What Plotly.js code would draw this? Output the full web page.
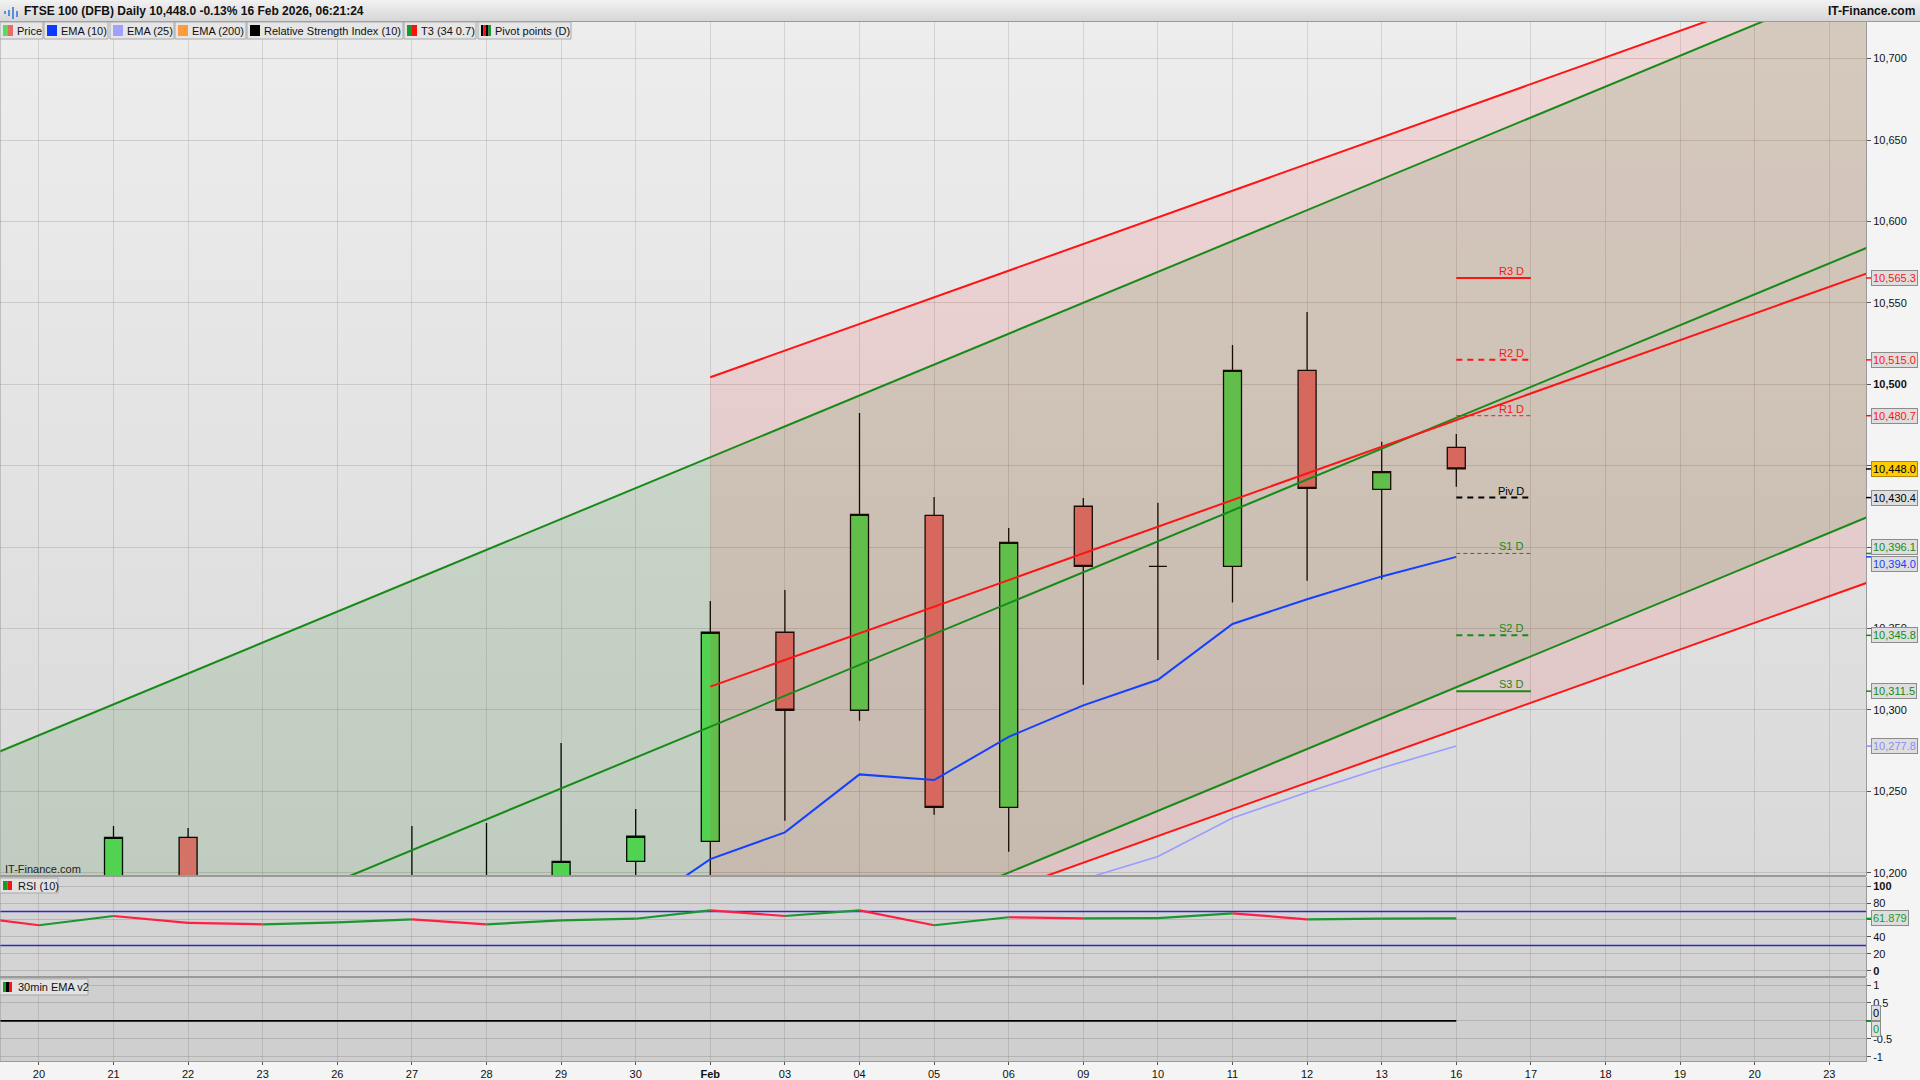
<!DOCTYPE html>
<html><head><meta charset="utf-8">
<script src="https://cdn.plot.ly/plotly-3.0.1.min.js"></script>
<style>html,body{margin:0;padding:0;background:#fff;overflow:hidden}#chart{width:1920px;height:1080px}</style>
</head><body><div id="chart"></div>
<script>
// ================= DATA =================
// trading days (index 0 = 19 Jan, off-screen left); axis labels
const dayLabels = ["19","20","21","22","23","26","27","28","29","30","Feb","03","04","05","06","09","10","11","12","13","16","17","18","19","20","23"];
// daily candles 19 Jan .. 16 Feb
const openP  = [10160,10170,10180,10221.7,10170,10165,10180,10192,10175,10207,10219.3,10347.7,10299.8,10419.5,10240.2,10425.1,10388.2,10388.2,10508.6,10435.5,10461.3];
const highP  = [10195,10190,10228.7,10227.5,10190,10192,10228.7,10230.5,10279.7,10239.1,10366.9,10373.6,10482.4,10430.8,10411.7,10430.2,10427.3,10524.1,10544.4,10464.7,10469.5];
const lowP   = [10140,10150,10165,10150,10150,10150,10160,10150,10160,10185,10190,10232,10293.4,10235.6,10212.9,10315.5,10330.7,10365.9,10379.4,10380.1,10437.1];
const closeP = [10178,10175,10221.7,10170,10165,10180,10192,10170,10207,10222.4,10347.7,10299.8,10420.1,10240.2,10402.9,10388.2,10388.2,10508.6,10436.1,10446.4,10448.0];
// EMA(10) from 30 Jan (index 9), EMA(25) from 09 Feb (index 15)
const ema10Start = 9;
const ema10 = [10177,10208.4,10224.8,10260.4,10256.9,10283.5,10302.8,10318.5,10352.8,10368,10382,10394.0];
const ema25Start = 15;
const ema25 = [10196,10210,10233.6,10249.4,10264.4,10277.8];
// RSI(10) 19 Jan .. 16 Feb
const rsi = [65.0,53.8,64.7,56.5,54.9,57.3,60.8,54.9,59.6,61.5,71.4,64.7,71.4,53.8,63.2,62.0,62.1,67.9,60.8,61.7,61.879];
const rsiLevels = [70,30];
// 30min EMA v2 indicator values
const ema30m = [0,0,0,0,0,0,0,0,0,0,0,0,0,0,0,0,0,0,0,0,0];
// T3 channels: centre line values at 02 Feb (index 10) and 16 Feb (index 20), band half-width
const channelDays = [10,20];
const greenMid = [10289.7,10479.4];
const greenHalf = 165.5;
const redMid = [10314.3,10478.0];
const redHalf = 190;
// daily pivot points
const pivotNames  = ["R3 D","R2 D","R1 D","Piv D","S1 D","S2 D","S3 D"];
const pivotLevels = [10565.3,10515.0,10480.7,10430.4,10396.1,10345.8,10311.5];
const pivotDays = [20,21];
// legend entries
const legendNames = ["Price","EMA (10)","EMA (25)","EMA (200)","Relative Strength Index (10)","T3 (34 0.7)","Pivot points (D)"];
const titleText = "FTSE 100 (DFB) Daily 10,448.0 -0.13% 16 Feb 2026, 06:21:24";
const priceTicks = [10200,10250,10300,10350,10400,10450,10500,10550,10600,10650,10700];

// ================= LAYOUT HELPERS =================
const FONT = "Liberation Sans, Arial, Helvetica, sans-serif";
const W = 1920, H = 1080, ML = 0, MR = 54, MT = 22, MB = 19;
const PW = W - ML - MR, PH = H - MT - MB;
const xp = px => (px - ML) / PW;
const yp = py => (H - MB - py) / PH;
const XR = [0.4786, 25.492];

const GREEN = '#178a17', RED = '#ff1414';
const fmt = (v, d) => v.toLocaleString('en-US', {minimumFractionDigits: d, maximumFractionDigits: d});

function lineAt(days, vals, x) {
  const s = (vals[1] - vals[0]) / (days[1] - days[0]);
  return vals[0] + (x - days[0]) * s;
}

const traces = [];
// channel fills
(function(){
  const xa = -1, xb = 27;
  const gU = [lineAt(channelDays, greenMid, xa) + greenHalf, lineAt(channelDays, greenMid, xb) + greenHalf];
  const gL = [lineAt(channelDays, greenMid, xa) - greenHalf, lineAt(channelDays, greenMid, xb) - greenHalf];
  traces.push({type:'scatter', mode:'lines', x:[xa,xb,xb,xa,xa], y:[gU[0],gU[1],gL[1],gL[0],gU[0]],
    fill:'toself', fillcolor:'rgba(0,105,0,0.115)', line:{width:0}, hoverinfo:'skip', xaxis:'x', yaxis:'y'});
  const rs = channelDays[0];
  const rU = [lineAt(channelDays, redMid, rs) + redHalf, lineAt(channelDays, redMid, xb) + redHalf];
  const rL = [lineAt(channelDays, redMid, rs) - redHalf, lineAt(channelDays, redMid, xb) - redHalf];
  traces.push({type:'scatter', mode:'lines', x:[rs,xb,xb,rs,rs], y:[rU[0],rU[1],rL[1],rL[0],rU[0]],
    fill:'toself', fillcolor:'rgba(255,20,20,0.10)', line:{width:0}, hoverinfo:'skip', xaxis:'x', yaxis:'y'});
})();

// candles
const candleX = openP.map((_, i) => i);
traces.push({type:'candlestick', x:candleX, open:openP, high:highP, low:lowP, close:closeP,
  increasing:{line:{color:'#000', width:1.3}, fillcolor:'#5ce05c'},
  decreasing:{line:{color:'#000', width:1.3}, fillcolor:'#ee7474'},
  whiskerwidth:0, xaxis:'x', yaxis:'y', hoverinfo:'skip'});

// channel lines
(function(){
  const xa = -1, xb = 27, rs = channelDays[0];
  [greenHalf, 0, -greenHalf].forEach(off => {
    traces.push({type:'scatter', mode:'lines', x:[xa,xb],
      y:[lineAt(channelDays, greenMid, xa) + off, lineAt(channelDays, greenMid, xb) + off],
      line:{color:GREEN, width:2}, xaxis:'x', yaxis:'y', hoverinfo:'skip'});
  });
  [redHalf, 0, -redHalf].forEach(off => {
    traces.push({type:'scatter', mode:'lines', x:[rs,xb],
      y:[lineAt(channelDays, redMid, rs) + off, lineAt(channelDays, redMid, xb) + off],
      line:{color:RED, width:2}, xaxis:'x', yaxis:'y', hoverinfo:'skip'});
  });
})();

// EMAs
traces.push({type:'scatter', mode:'lines', x:ema25.map((_, i) => ema25Start + i), y:ema25,
  line:{color:'#9c9cff', width:1.6}, xaxis:'x', yaxis:'y', hoverinfo:'skip'});
traces.push({type:'scatter', mode:'lines', x:ema10.map((_, i) => ema10Start + i), y:ema10,
  line:{color:'#1440ff', width:2}, xaxis:'x', yaxis:'y', hoverinfo:'skip'});

// pivots
const pivotStyle = [
  {c:RED, d:'solid', w:2}, {c:RED, d:'dash', w:2}, {c:RED, d:'dash', w:1},
  {c:'#000', d:'dash', w:2}, {c:GREEN, d:'dash', w:1}, {c:GREEN, d:'dash', w:2}, {c:GREEN, d:'solid', w:2}
];
pivotLevels.forEach((lv, i) => {
  const st = pivotStyle[i];
  traces.push({type:'scatter', mode:'lines', x:pivotDays, y:[lv, lv],
    line:{color:st.c, width:st.w, dash: st.d === 'dash' ? (st.w > 1 ? '6px,5px' : '4px,3px') : 'solid'},
    xaxis:'x', yaxis:'y', hoverinfo:'skip'});
});

// RSI guide levels
rsiLevels.forEach(l => traces.push({type:'scatter', mode:'lines', x:[-1,27], y:[l,l],
  line:{color:'#2a2ac8', width:1.3}, xaxis:'x', yaxis:'y2', hoverinfo:'skip'}));
// RSI coloured by direction
(function(){
  const g = {x:[], y:[]}, r = {x:[], y:[]};
  for (let i = 0; i < rsi.length - 1; i++) {
    const s = rsi[i+1] >= rsi[i] ? g : r;
    s.x.push(i, i+1, null); s.y.push(rsi[i], rsi[i+1], null);
  }
  traces.push({type:'scatter', mode:'lines', x:r.x, y:r.y, line:{color:'#ff1e46', width:2.2}, xaxis:'x', yaxis:'y2', hoverinfo:'skip', connectgaps:false});
  traces.push({type:'scatter', mode:'lines', x:g.x, y:g.y, line:{color:'#1a9632', width:2.2}, xaxis:'x', yaxis:'y2', hoverinfo:'skip', connectgaps:false});
})();
// 30 min EMA
traces.push({type:'scatter', mode:'lines', x:ema30m.map((_, i) => i), y:ema30m,
  line:{color:'#000', width:1.6}, xaxis:'x', yaxis:'y3', hoverinfo:'skip'});

// ================= SHAPES / ANNOTATIONS =================
const shapes = [], ann = [];
// header bar
const hdr = "<svg xmlns='http://www.w3.org/2000/svg' width='10' height='100' preserveAspectRatio='none'><defs><linearGradient id='h' x1='0' y1='0' x2='0' y2='1'><stop offset='0' stop-color='#f2f2f2'/><stop offset='1' stop-color='#d6d6d6'/></linearGradient></defs><rect width='10' height='100' fill='url(#h)'/></svg>";
shapes.push({type:'line', xref:'paper', yref:'paper', x0:xp(0), x1:xp(W), y0:yp(21.5), y1:yp(21.5),
  line:{color:'#9a9a9a', width:1}, layer:'above'});
// small header icon
[[4,10,7],[8,6,12],[12,3,15],[16,7,13]].forEach(b => shapes.push({type:'rect', xref:'paper', yref:'paper',
  x0:xp(b[0]), x1:xp(b[0]+2), y0:yp(b[2]+4), y1:yp(b[1]+4), fillcolor:'#5a8fd8', line:{width:0}, layer:'above'}));
ann.push({xref:'paper', yref:'paper', x:xp(22), y:yp(11), xanchor:'left', yanchor:'middle', showarrow:false,
  text:'<b>' + titleText + '</b>', font:{family:FONT, size:12, color:'#111'}});
ann.push({xref:'paper', yref:'paper', x:xp(1917), y:yp(11), xanchor:'right', yanchor:'middle', showarrow:false,
  text:'<b>IT-Finance.com</b>', font:{family:FONT, size:12, color:'#111'}});

// panel backgrounds
const grad = "<svg xmlns='http://www.w3.org/2000/svg' width='10' height='100' preserveAspectRatio='none'><defs><linearGradient id='g' x1='0' y1='0' x2='0' y2='1'><stop offset='0' stop-color='#ededed'/><stop offset='1' stop-color='#d9d9d9'/></linearGradient></defs><rect width='10' height='100' fill='url(#g)'/></svg>";
const images = [
  {source:'data:image/svg+xml;charset=utf-8,' + encodeURIComponent(grad), xref:'paper', yref:'paper',
   x:0, y:1, sizex:1, sizey:1 - yp(876), sizing:'stretch', xanchor:'left', yanchor:'top', layer:'below'},
  {source:'data:image/svg+xml;charset=utf-8,' + encodeURIComponent(hdr), xref:'paper', yref:'paper',
   x:0, y:yp(0), sizex:W / PW, sizey:yp(0) - yp(21), sizing:'stretch', xanchor:'left', yanchor:'top', layer:'below'}
];
shapes.push({type:'rect', xref:'paper', yref:'paper', x0:0, x1:1, y0:yp(977), y1:yp(876), fillcolor:'#d4d4d4', line:{width:0}, layer:'below'});
shapes.push({type:'rect', xref:'paper', yref:'paper', x0:0, x1:1, y0:0, y1:yp(977), fillcolor:'#cfcfcf', line:{width:0}, layer:'below'});
// panel separators
[876, 977].forEach(py => shapes.push({type:'line', xref:'paper', yref:'paper', x0:0, x1:1, y0:yp(py), y1:yp(py),
  line:{color:'#9a9a9a', width:2}, layer:'above'}));
shapes.push({type:'line', xref:'paper', yref:'paper', x0:0, x1:0, y0:0, y1:1, line:{color:'#9a9a9a', width:1}, layer:'above'});

// legend bar
const legendBoxes = [[0,43],[44,108],[110,174],[175,246],[247,403],[404,476],[478,571]];
const legendSw = [['#58dd58','#e86a6a'],['#0a3cff'],['#a0a0ff'],['#ff9a40'],['#000'],['#169a28','#ff1010'],['#000','#ff1010','#000','#169a28']];
legendNames.forEach((nm, i) => {
  const [a, b] = legendBoxes[i];
  shapes.push({type:'rect', xref:'paper', yref:'paper', x0:xp(a), x1:xp(b), y0:yp(39), y1:yp(22),
    fillcolor:'#e6e6e6', line:{color:'#a8a8a8', width:1}, layer:'above'});
  const sw = legendSw[i], sx = a + 3, swW = 10;
  sw.forEach((c, k) => shapes.push({type:'rect', xref:'paper', yref:'paper',
    x0:xp(sx + k * swW / sw.length), x1:xp(sx + (k + 1) * swW / sw.length), y0:yp(36), y1:yp(25),
    fillcolor:c, line:{width:0}, layer:'above'}));
  ann.push({xref:'paper', yref:'paper', x:xp(a + 15), y:yp(30.5), xanchor:'left', yanchor:'middle', showarrow:false,
    text:nm, font:{family:FONT, size:11, color:'#111'}});
});

// sub-panel legends
function panelTag(py0, py1, w, sw, label) {
  shapes.push({type:'rect', xref:'paper', yref:'paper', x0:xp(0), x1:xp(w), y0:yp(py1), y1:yp(py0),
    fillcolor:'#e2e2e2', line:{color:'#a8a8a8', width:1}, layer:'above'});
  sw.forEach((c, k) => shapes.push({type:'rect', xref:'paper', yref:'paper',
    x0:xp(3 + k * 9 / sw.length), x1:xp(3 + (k + 1) * 9 / sw.length), y0:yp(py1 - 3), y1:yp(py0 + 3),
    fillcolor:c, line:{width:0}, layer:'above'}));
  ann.push({xref:'paper', yref:'paper', x:xp(16), y:yp((py0 + py1) / 2), xanchor:'left', yanchor:'middle', showarrow:false,
    text:label, font:{family:FONT, size:11, color:'#111'}});
}
panelTag(878, 893, 58, ['#169a28','#ff1010'], 'RSI (10)');
panelTag(979, 995, 88, ['#169a28','#000','#ff1010'], '30min EMA v2');
ann.push({xref:'paper', yref:'paper', x:xp(3), y:yp(869), xanchor:'left', yanchor:'middle', showarrow:false,
  text:'IT-Finance.com', font:{family:FONT, size:11, color:'#222'}});

// pivot labels
pivotLevels.forEach((lv, i) => ann.push({xref:'x', yref:'y', x:pivotDays[1], y:lv, xanchor:'right', yanchor:'bottom',
  xshift:-5, yshift:-1, showarrow:false, text:pivotNames[i], font:{family:FONT, size:11, color:pivotStyle[i].c}}));

// right-side value boxes
function valueBox(yref, v, txt, color, bg, border, yshift) {
  shapes.push({type:'line', xref:'paper', yref:yref, x0:1, x1:1 + 5 / PW, y0:v, y1:v, line:{color:color, width:1.5}});
  ann.push({xref:'paper', yref:yref, x:1, y:v, xanchor:'left', yanchor:'middle', xshift:5, yshift:yshift || 0, showarrow:false,
    text:txt, font:{family:FONT, size:11, color:color}, bgcolor:bg, bordercolor:border, borderwidth:1, borderpad:1});
}
const boxBg = '#dedede', boxBd = '#8c8c8c';
valueBox('y', pivotLevels[0], fmt(pivotLevels[0],1), RED, boxBg, boxBd);
valueBox('y', pivotLevels[1], fmt(pivotLevels[1],1), RED, boxBg, boxBd);
valueBox('y', pivotLevels[2], fmt(pivotLevels[2],1), RED, boxBg, boxBd);
valueBox('y', pivotLevels[3], fmt(pivotLevels[3],1), '#000', boxBg, boxBd);
valueBox('y', pivotLevels[4], fmt(pivotLevels[4],1), GREEN, boxBg, boxBd, 6);
valueBox('y', ema10[ema10.length-1], fmt(ema10[ema10.length-1],1), '#1440ff', boxBg, boxBd, -7);
valueBox('y', pivotLevels[5], fmt(pivotLevels[5],1), GREEN, boxBg, boxBd);
valueBox('y', pivotLevels[6], fmt(pivotLevels[6],1), GREEN, boxBg, boxBd);
valueBox('y', ema25[ema25.length-1], fmt(ema25[ema25.length-1],1), '#8c8cff', boxBg, boxBd);
valueBox('y', closeP[closeP.length-1], fmt(closeP[closeP.length-1],1), '#000', '#ffcc00', '#b08a00');
valueBox('y2', rsi[rsi.length-1], String(rsi[rsi.length-1]), '#169a28', boxBg, boxBd);
valueBox('y3', ema30m[ema30m.length-1], '0', '#000', boxBg, boxBd, 8);
valueBox('y3', ema30m[ema30m.length-1], '0', '#169a28', boxBg, boxBd, -8);

// ================= AXES =================
// tick labels fully covered by value boxes in the reference are left blank
const hiddenPriceTicks = [10400];
const tickFont = {family:FONT, size:11, color:'#111'};
const layout = {
  width:W, height:H, margin:{l:ML, r:MR, t:MT, b:MB, pad:0},
  paper_bgcolor:'#f4f4f4', plot_bgcolor:'rgba(0,0,0,0)', showlegend:false, hovermode:false,
  boxgap:1 - 18 / 74.6, boxgroupgap:0,
  xaxis:{range:XR, tickvals:dayLabels.map((_, i) => i), ticktext:dayLabels.map(l => l === 'Feb' ? '<b>Feb</b>' : l),
    showgrid:true, gridcolor:'rgba(60,40,20,0.13)', gridwidth:1, zeroline:false, anchor:'y3',
    ticks:'outside', ticklen:3, tickcolor:'#555', tickfont:tickFont, showline:true, linecolor:'#9a9a9a', linewidth:1,
    rangeslider:{visible:false}, fixedrange:true},
  yaxis:{domain:[yp(876), 1], range:[10198, 10722.5], side:'right', anchor:'x',
    tickvals:priceTicks, ticktext:priceTicks.map(v => hiddenPriceTicks.includes(v) ? '' : (v === 10500 ? '<b>' + fmt(v,0) + '</b>' : fmt(v,0))),
    showgrid:true, gridcolor:'rgba(60,40,20,0.15)', zeroline:false, ticks:'outside', ticklen:4, tickcolor:'#555',
    tickfont:tickFont, showline:true, linecolor:'#9a9a9a', linewidth:1, fixedrange:true},
  yaxis2:{domain:[yp(977), yp(877)], range:[-7.1, 110.6], side:'right', anchor:'x',
    tickvals:[0,20,40,60,80,100], ticktext:['<b>0</b>','20','40','','80','<b>100</b>'],
    showgrid:true, gridcolor:'rgba(0,0,0,0.13)', zeroline:false, ticks:'outside', ticklen:4, tickcolor:'#555',
    tickfont:tickFont, showline:true, linecolor:'#9a9a9a', linewidth:1, fixedrange:true},
  yaxis3:{domain:[0, yp(978)], range:[-1.12, 1.196], side:'right', anchor:'x',
    tickvals:[-1,-0.5,0,0.5,1], ticktext:['-1','-0.5','','0.5','1'],
    showgrid:true, gridcolor:'rgba(0,0,0,0.13)', zeroline:false, ticks:'outside', ticklen:4, tickcolor:'#555',
    tickfont:tickFont, showline:true, linecolor:'#9a9a9a', linewidth:1, fixedrange:true},
  shapes:shapes, annotations:ann, images:images
};
Plotly.newPlot('chart', traces, layout, {staticPlot:true, displayModeBar:false});
</script></body></html>
